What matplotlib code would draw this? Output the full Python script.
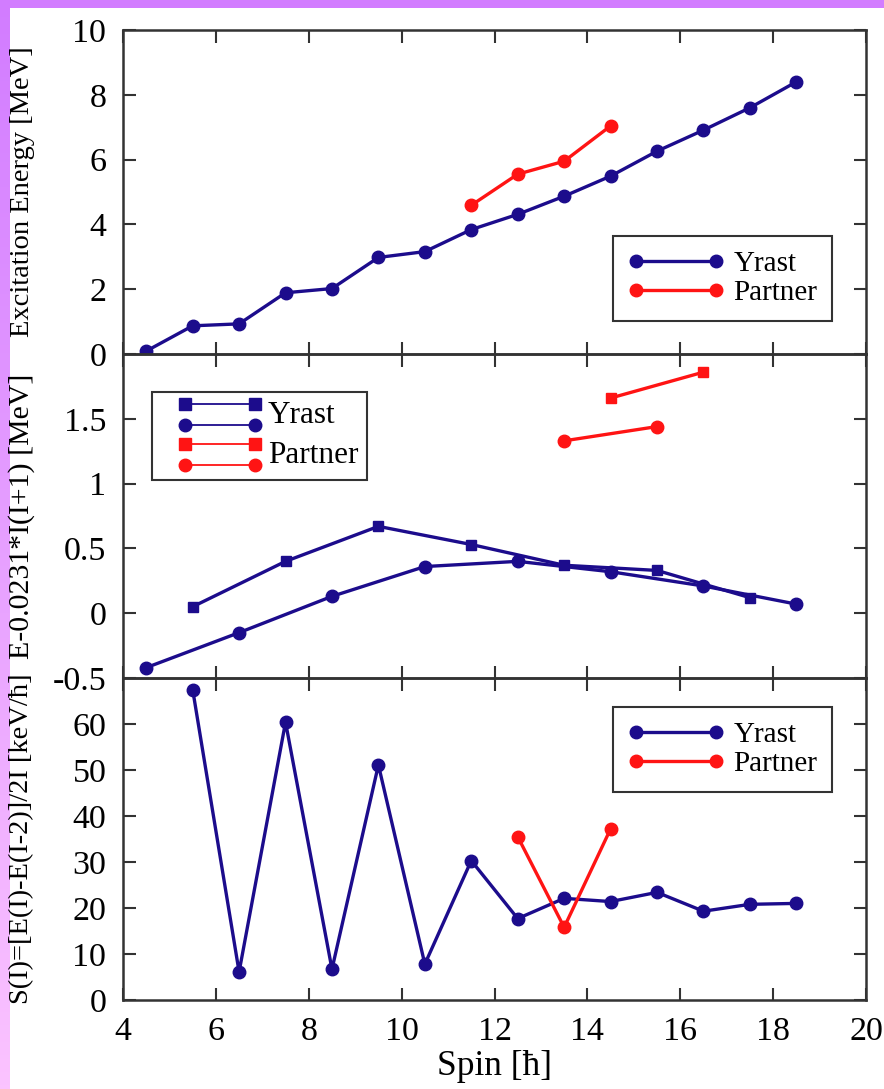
import numpy as np
import matplotlib
matplotlib.use("Agg")
import matplotlib.pyplot as plt
from matplotlib.lines import Line2D
from matplotlib.legend_handler import HandlerBase

# ---------------- data ----------------
spin_all = [4.5, 5.5, 6.5, 7.5, 8.5, 9.5, 10.5, 11.5, 12.5, 13.5, 14.5, 15.5, 16.5, 17.5, 18.5]
energy_yrast = [0.09, 0.87, 0.93, 1.89, 2.02, 2.98, 3.16, 3.84, 4.31, 4.87, 5.49, 6.26, 6.91, 7.60, 8.40]

spin_partner = [11.5, 12.5, 13.5, 14.5]
energy_partner = [4.59, 5.55, 5.95, 7.04]

# reduced energy E - 0.0231 I(I+1)
spin_yrast_sq = [5.5, 7.5, 9.5, 11.5, 13.5, 15.5, 17.5]
red_yrast_sq = [0.05, 0.40, 0.67, 0.53, 0.37, 0.33, 0.12]
spin_yrast_ci = [4.5, 6.5, 8.5, 10.5, 12.5, 14.5, 16.5, 18.5]
red_yrast_ci = [-0.42, -0.15, 0.13, 0.36, 0.40, 0.32, 0.21, 0.07]
spin_partner_sq = [14.5, 16.5]
red_partner_sq = [1.66, 1.86]
spin_partner_ci = [13.5, 15.5]
red_partner_ci = [1.33, 1.44]

# staggering S(I)
spin_s_yrast = [5.5, 6.5, 7.5, 8.5, 9.5, 10.5, 11.5, 12.5, 13.5, 14.5, 15.5, 16.5, 17.5, 18.5]
s_yrast = [67.5, 6.1, 60.4, 6.7, 51.1, 7.8, 30.3, 17.7, 22.1, 21.4, 23.4, 19.3, 20.8, 21.0]
spin_s_partner = [12.5, 13.5, 14.5]
s_partner = [35.5, 15.8, 37.2]

x_ticks = [4, 6, 8, 10, 12, 14, 16, 18, 20]
labels = ["Yrast", "Partner"]

# ---------------- style ----------------
FONT = ["Liberation Serif", "DejaVu Serif"]
plt.rcParams["font.family"] = FONT
BLUE = "#1c0c8c"
RED = "#ff1414"
SPINE = "#333333"
W, H = 884, 1089

fig = plt.figure(figsize=(W / 100, H / 100), dpi=100)
fig.patch.set_facecolor("white")

# decorative gradient border (left strip + top strip)
bg = fig.add_axes([0, 0, 1, 1], zorder=-10)
bg.axis("off")
c_top = np.array(matplotlib.colors.to_rgb("#d27cff"))
c_bot = np.array(matplotlib.colors.to_rgb("#fbc3ff"))
t = np.linspace(0, 1, 256)[:, None]
grad = (c_top[None, :] * (1 - t) + c_bot[None, :] * t)[:, None, :]
bg.imshow(grad, extent=[0, 10, H, 0], aspect="auto")
bg.imshow(np.tile(c_top, (1, 1, 1)), extent=[0, W, 8, 0], aspect="auto")
bg.set_xlim(0, W)
bg.set_ylim(H, 0)

left = 123 / W
width = (866 - 123) / W


def fr(y0, y1):
    return [left, 1 - y1 / H, width, (y1 - y0) / H]


ax1 = fig.add_axes(fr(30, 354))
ax2 = fig.add_axes(fr(354, 678))
ax3 = fig.add_axes(fr(678, 1000))

TICK_FS = 24.5
LEG_FS = 21

for ax in (ax1, ax2, ax3):
    ax.set_xlim(4, 20)
    ax.set_xticks(x_ticks)
    ax.tick_params(direction="in", top=True, right=True, length=9, width=1.5,
                   color=SPINE, labelsize=TICK_FS)
    ax.tick_params(axis="y", pad=12)
    ax.tick_params(axis="x", pad=12)
    for s in ax.spines.values():
        s.set_linewidth(1.8)
        s.set_color(SPINE)
    ax.set_facecolor("none")

for ax in (ax1, ax2):
    ax.tick_params(labelbottom=False)

lw = 2.4
ms = 9

leg_kw = dict(fancybox=False, edgecolor=SPINE, framealpha=1, borderaxespad=0.0)

# top panel
ax1.plot(spin_all, energy_yrast, "-o", color=BLUE, lw=lw, ms=ms, label=labels[0])
ax1.plot(spin_partner, energy_partner, "-o", color=RED, lw=lw, ms=ms, label=labels[1])
ax1.set_ylim(0, 10)
ax1.set_yticks([0, 2, 4, 6, 8, 10])
ax1.set_ylabel("Excitation Energy [MeV]", fontsize=20.5)
leg1 = ax1.legend(loc="lower right", bbox_to_anchor=(0.954, 0.102), numpoints=2,
                  fontsize=LEG_FS, handlelength=3.34, borderpad=0.5, labelspacing=0.1,
                  handletextpad=0.3, **leg_kw)
leg1.get_frame().set_linewidth(1.5)

# middle panel
ax2.plot(spin_yrast_sq, red_yrast_sq, "-s", color=BLUE, lw=lw, ms=7.5)
ax2.plot(spin_yrast_ci, red_yrast_ci, "-o", color=BLUE, lw=lw, ms=ms)
ax2.plot(spin_partner_sq, red_partner_sq, "-s", color=RED, lw=lw, ms=7.5)
ax2.plot(spin_partner_ci, red_partner_ci, "-o", color=RED, lw=lw, ms=ms)
ax2.set_ylim(-0.5, 2.0)
ax2.set_yticks([-0.5, 0, 0.5, 1, 1.5])
ax2.set_yticklabels(["-0.5", "0", "0.5", "1", "1.5"])
ax2.set_ylabel("E-0.0231*I(I+1) [MeV]", fontsize=21.5)


class PairHandler(HandlerBase):
    def __init__(self, color):
        super().__init__()
        self.color = color

    def create_artists(self, legend, orig_handle, xdescent, ydescent, width, height,
                       fontsize, trans):
        arts = []
        x0 = -xdescent + 0.234 * width
        x1 = -xdescent + 0.934 * width
        for dy, mk, msz in ((height * 1.1 - 3.5, "s", 8), (height * 0.15 - 3.5, "o", 9)):
            ln = Line2D([x0, x1], [dy - ydescent, dy - ydescent],
                        color=self.color, lw=1.3, marker=mk, ms=msz, transform=trans)
            arts.append(ln)
        return arts


hy = Line2D([], [], color=BLUE)
hp = Line2D([], [], color=RED)
leg2 = ax2.legend([hy, hp], labels, loc="upper left", bbox_to_anchor=(0.039, 0.883),
                  handler_map={hy: PairHandler(BLUE), hp: PairHandler(RED)},
                  fontsize=22.5, handlelength=3.2, handleheight=0.7, borderpad=0.3,
                  labelspacing=0.35, handletextpad=0.2, **leg_kw)
leg2.get_frame().set_linewidth(1.5)

# bottom panel
ax3.plot(spin_s_yrast, s_yrast, "-o", color=BLUE, lw=lw, ms=ms, label=labels[0])
ax3.plot(spin_s_partner, s_partner, "-o", color=RED, lw=lw, ms=ms, label=labels[1])
ax3.set_ylim(0, 70)
ax3.set_yticks([0, 10, 20, 30, 40, 50, 60])
ax3.set_ylabel("S(I)=[E(I)-E(I-2)]/2I [keV/\u0127]", fontsize=20.5)
ax3.set_xlabel("Spin [\u0127]", fontsize=TICK_FS + 1, labelpad=2)
leg3 = ax3.legend(loc="upper right", bbox_to_anchor=(0.954, 0.91), numpoints=2,
                  fontsize=LEG_FS, handlelength=3.34, borderpad=0.5, labelspacing=0.1,
                  handletextpad=0.3, **leg_kw)
leg3.get_frame().set_linewidth(1.5)

for ax in (ax1, ax2, ax3):
    ax.yaxis.set_label_coords(-0.119, 0.5)

fig.savefig("out.png", dpi=100)
